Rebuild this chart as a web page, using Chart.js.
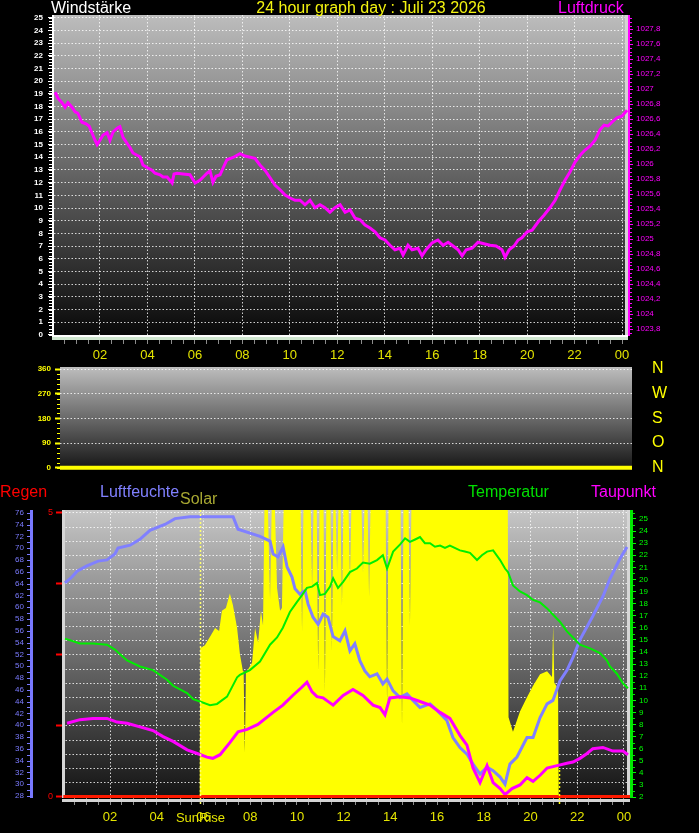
<!DOCTYPE html>
<html>
<head>
<meta charset="utf-8">
<title>24 hour graph day</title>
<script src="https://cdn.jsdelivr.net/npm/chart.js@4.4.1/dist/chart.umd.min.js"></script>
<style>
html,body{margin:0;padding:0;background:#000;}
body{position:relative;width:699px;height:833px;overflow:hidden;font-family:"Liberation Sans",Arial,Helvetica,sans-serif;}
canvas{position:absolute;left:0;}
.t{position:absolute;font-size:16px;line-height:16px;white-space:nowrap;}
</style>
</head>
<body>
<canvas id="c1" width="699" height="362" style="top:0px"></canvas>
<canvas id="c2" width="699" height="138" style="top:352px"></canvas>
<canvas id="c3" width="699" height="353" style="top:480px"></canvas>
<div class="t" style="left:51px;top:0px;color:#ffffff">Windstärke</div>
<div class="t" style="left:0;width:742px;text-align:center;top:0px;color:#f4f410">24 hour graph day : Juli 23 2026</div>
<div class="t" style="left:558px;top:0px;color:#ff00ff">Luftdruck</div>
<div class="t" style="left:0px;top:484px;color:#ff0000">Regen</div>
<div class="t" style="left:100px;top:484px;color:#8080ff">Luftfeuchte</div>
<div class="t" style="left:180px;top:491px;color:#a8a832">Solar</div>
<div class="t" style="left:468px;top:484px;color:#00e000">Temperatur</div>
<div class="t" style="left:591px;top:484px;color:#ff00ff">Taupunkt</div>
<script>
// ---------------- DATA ----------------
const hourLabelValues = [2,4,6,8,10,12,14,16,18,20,22,24];
const hourLabels = ['02','04','06','08','10','12','14','16','18','20','22','00'];
const windTicks = [0,1,2,3,4,5,6,7,8,9,10,11,12,13,14,15,16,17,18,19,20,21,22,23,24,25];
const pressTicks = [1023.8,1024,1024.2,1024.4,1024.6,1024.8,1025,1025.2,1025.4,1025.6,1025.8,1026,1026.2,1026.4,1026.6,1026.8,1027,1027.2,1027.4,1027.6,1027.8];
const dirTicks = [0,90,180,270,360];
const dirLabels = ['N','O','S','W','N'];
const humTicks = [28,30,32,34,36,38,40,42,44,46,48,50,52,54,56,58,60,62,64,66,68,70,72,74,76];
const tempTicks = [2,3,4,5,6,7,8,9,10,11,12,13,14,15,16,17,18,19,20,21,22,23,24,25];
const rainLabelTicks = [0,1.25,2.5,3.75,5];
const sunriseHour = 5.85;
const sunsetHour = 21.22;

const pressHours = [0.11,0.23,0.40,0.53,0.65,0.82,0.95,1.07,1.24,1.41,
 1.54,1.66,1.79,1.88,2.00,2.13,2.30,2.42,2.55,2.72,
 2.84,2.97,3.14,3.27,3.39,3.56,3.69,3.81,4.02,4.19,
 4.32,4.53,4.66,4.83,5.04,5.12,5.25,5.50,5.79,6.01,
 6.22,6.38,6.51,6.64,6.76,6.89,7.06,7.23,7.35,7.61,
 7.90,8.11,8.53,8.74,8.95,9.17,9.38,9.59,9.80,10.01,
 10.22,10.43,10.64,10.85,11.06,11.27,11.48,11.69,11.90,12.12,
 12.33,12.54,12.75,12.96,13.17,13.38,13.59,13.80,14.01,14.22,
 14.43,14.64,14.77,14.98,15.15,15.40,15.57,15.74,15.99,16.24,
 16.46,16.67,16.88,17.09,17.26,17.43,17.68,17.93,18.18,18.44,
 18.69,18.94,19.07,19.24,19.45,19.62,19.78,20.00,20.21,20.46,
 20.71,20.96,21.18,21.39,21.60,21.81,22.02,22.23,22.44,22.65,
 22.86,23.07,23.24,23.41,23.57,23.78,23.99,24.21];
const pressValues = [1026.96,1026.88,1026.82,1026.76,1026.82,1026.76,1026.70,1026.68,1026.56,1026.54,
 1026.51,1026.42,1026.32,1026.26,1026.32,1026.39,1026.42,1026.32,1026.43,1026.48,
 1026.50,1026.36,1026.28,1026.22,1026.15,1026.12,1026.10,1025.99,1025.95,1025.92,
 1025.88,1025.86,1025.83,1025.83,1025.75,1025.87,1025.88,1025.87,1025.86,1025.75,
 1025.79,1025.84,1025.88,1025.91,1025.76,1025.84,1025.86,1025.98,1026.06,1026.09,
 1026.14,1026.11,1026.08,1025.99,1025.92,1025.82,1025.72,1025.66,1025.59,1025.55,
 1025.52,1025.52,1025.46,1025.52,1025.42,1025.46,1025.42,1025.36,1025.42,1025.46,
 1025.36,1025.39,1025.28,1025.26,1025.19,1025.15,1025.10,1025.02,1024.99,1024.92,
 1024.86,1024.88,1024.79,1024.92,1024.86,1024.88,1024.78,1024.86,1024.95,1024.99,
 1024.92,1024.96,1024.91,1024.86,1024.78,1024.86,1024.88,1024.96,1024.94,1024.92,
 1024.91,1024.86,1024.76,1024.86,1024.91,1024.99,1025.02,1025.10,1025.12,1025.23,
 1025.32,1025.42,1025.52,1025.66,1025.79,1025.90,1026.03,1026.12,1026.19,1026.24,
 1026.32,1026.46,1026.52,1026.51,1026.56,1026.62,1026.64,1026.72];

const dirHours = [0, 24.3];
const dirValues = [0, 0];

const rainHours = [0, 24.3];
const rainValues = [0, 0];

const humHours = [0.07,0.37,0.59,1.01,1.49,1.87,2.21,2.34,2.86,3.28,
 3.71,4.35,4.78,5.42,7.27,7.48,8.42,8.85,8.98,9.19,
 9.41,9.58,9.79,9.92,10.13,10.35,10.48,10.69,10.91,11.12,
 11.33,11.55,11.84,12.06,12.27,12.48,12.70,12.91,13.12,13.43,
 13.68,13.86,14.12,14.41,14.71,14.97,15.27,15.70,16.00,16.42,
 16.68,16.98,17.28,17.54,17.84,18.14,18.40,18.70,18.91,19.12,
 19.42,19.85,20.11,20.41,20.71,20.96,21.26,21.56,21.82,22.12,
 22.67,23.11,23.40,23.83,24.13];
const humValues = [64.1,65.1,66.1,67.0,67.8,68.0,69.0,70.0,70.5,71.5,
 73.0,74.0,75.0,75.3,75.3,73.2,72.0,71.2,69.0,68.5,
 70.2,66.8,65.1,63.1,62.2,62.8,60.5,58.3,57.1,58.8,
 58.3,55.0,54.3,56.0,52.6,53.8,50.9,49.2,48.2,48.7,
 47.0,47.8,45.8,44.7,45.3,44.2,43.0,43.6,42.5,40.8,
 37.9,36.2,35.1,33.4,31.7,32.9,32.3,31.2,30.0,33.4,
 34.6,37.9,37.9,41.3,43.6,44.2,47.5,49.3,51.5,54.5,
 58.5,61.9,64.8,68.2,70.2];

const tempHours = [0.07,0.71,1.27,1.87,2.21,2.43,2.73,3.28,3.84,4.44,
 4.70,5.30,5.56,5.85,6.28,6.58,7.01,7.44,7.56,7.99,
 8.42,8.85,9.15,9.40,9.70,9.99,10.22,10.43,10.65,10.86,
 10.99,11.20,11.42,11.55,11.76,11.98,12.27,12.57,12.83,13.12,
 13.43,13.68,13.86,14.12,14.42,14.63,14.84,15.06,15.27,15.48,
 15.70,15.91,16.13,16.34,16.55,16.98,17.19,17.41,17.71,17.92,
 18.14,18.40,18.70,18.91,19.04,19.25,19.55,19.85,20.11,20.41,
 20.71,20.96,21.26,21.56,21.82,22.12,22.55,22.97,23.27,23.40,
 23.70,23.96,24.17];
const tempValues = [15.1,14.7,14.7,14.6,14.2,13.8,13.3,12.8,12.5,11.7,
 11.2,10.6,10.1,9.9,9.6,9.7,10.3,11.9,12.1,12.5,
 13.2,14.6,15.2,16.0,17.3,18.1,18.7,19.3,19.4,19.7,
 18.7,18.8,19.4,20.1,19.3,19.8,20.6,20.9,21.4,21.3,
 21.6,22.0,20.9,22.3,22.9,23.4,23.1,23.3,23.5,23.0,
 23.0,22.7,22.8,22.6,22.8,22.4,22.3,22.2,21.6,22.0,
 22.3,22.4,21.6,20.9,20.6,19.5,19.0,18.7,18.3,18.1,
 17.6,17.1,16.5,15.7,15.2,14.6,14.3,13.9,13.3,12.8,
 12.2,11.4,11.0];

const dewHours = [0.16,0.71,1.27,1.87,2.30,2.73,3.28,3.84,4.27,4.70,
 5.30,5.73,6.15,6.40,6.71,7.13,7.48,7.87,8.33,8.98,
 9.40,9.82,10.22,10.43,10.65,10.86,11.12,11.55,11.98,12.40,
 12.83,13.26,13.56,13.77,13.98,14.41,14.84,15.27,15.70,16.13,
 16.55,16.98,17.28,17.54,17.84,18.14,18.40,18.70,18.91,19.21,
 19.55,19.85,20.11,20.41,20.71,21.14,21.56,21.82,22.12,22.42,
 22.67,23.10,23.53,23.96,24.17];
const dewValues = [8.1,8.4,8.5,8.5,8.2,8.1,7.8,7.5,7.0,6.6,
 5.9,5.6,5.3,5.2,5.5,6.5,7.4,7.6,8.0,9.0,
 9.6,10.4,11.1,11.5,10.7,10.3,10.2,9.6,10.4,10.9,
 10.4,9.6,9.4,8.8,10.2,10.3,10.2,9.9,9.6,9.0,
 8.5,7.1,6.3,4.4,3.2,4.6,3.2,2.7,2.2,2.7,
 3.0,3.6,3.3,3.8,4.4,4.6,4.8,4.9,5.2,5.6,
 6.0,6.1,5.8,5.8,5.5];

const solarHours = [0,5.84,5.86,6.06,6.28,6.50,6.67,6.79,6.96,7.13,
 7.26,7.44,7.56,7.69,7.72,7.77,7.82,7.86,8.08,8.21,
 8.34,8.46,8.55,8.61,8.76,8.85,8.92,9.06,9.15,9.28,
 9.36,9.43,10.16,10.22,10.28,10.59,10.65,10.71,10.85,10.91,
 10.97,11.14,11.20,11.26,11.44,11.50,11.56,11.66,11.72,11.78,
 11.87,11.93,11.99,12.21,12.27,12.33,12.77,12.83,12.89,13.03,
 13.09,13.15,13.80,13.86,13.92,14.44,14.50,14.56,14.78,14.84,
 14.90,19.03,19.06,19.25,19.55,19.85,20.11,20.41,20.71,20.92,
 20.97,21.02,21.18,21.21,24.30];
const solarValues = [0,0,52,53,56,59,58,65,66,71,
 67,59,50,44,44,16,44,44,47,59,
 54,65,60,100,100,69,100,100,73,65,
 66,100,100,58,100,100,73,100,100,44,
 100,100,37,100,100,51,100,100,79,100,
 100,67,100,100,75,100,100,78,100,100,
 70,100,100,32,100,100,25,100,100,60,
 100,100,28,23,30,35,39,43,44,42,
 60,40,38,0,0];

// ---------------- HELPERS ----------------
Chart.defaults.font.family = '"Liberation Sans", Arial, Helvetica, sans-serif';
Chart.defaults.animation = false;
Chart.defaults.plugins.legend.display = false;
Chart.defaults.plugins.tooltip.enabled = false;
Chart.defaults.elements.point.radius = 0;
Chart.defaults.elements.line.tension = 0;

const GRID = 'rgba(255,255,255,0.8)';
const NONE = 'rgba(0,0,0,0)';
const DOT = [1.5, 2];
const xy = (xs, ys) => xs.map((x, i) => ({x: x, y: ys[i]}));
const near = (a, b) => Math.abs(a - b) < 1e-6;
const isLabelHour = v => hourLabelValues.some(h => near(h, v));

function hourAxis(min, max, tickLen, pad, height) {
  return {
    type: 'linear', min: min, max: max,
    afterBuildTicks: s => {
      const t = [];
      for (let k = 1; k <= 48; k++) { const v = k * 0.5; if (v >= min && v <= max) t.push({value: v}); }
      s.ticks = t;
    },
    grid: { color: c => (c.tick && isLabelHour(c.tick.value)) ? GRID : NONE, lineWidth: 1,
            tickColor: '#8c8c8c', tickLength: tickLen, tickWidth: 1 },
    border: { display: false, dash: DOT },
    ticks: { color: '#e4e400', font: {size: 13}, padding: pad, autoSkip: false, maxRotation: 0, minRotation: 0,
             callback: v => { const i = hourLabelValues.findIndex(h => near(h, v)); return i >= 0 ? hourLabels[i] : ''; } },
    afterFit: s => { s.height = height; }
  };
}
function gradientPlugin(id, c0, c1) {
  return { id: id, beforeDraw(chart) {
    const {ctx, chartArea: a} = chart;
    const g = ctx.createLinearGradient(0, a.top, 0, a.bottom);
    g.addColorStop(0, c0); g.addColorStop(1, c1);
    ctx.save(); ctx.fillStyle = g; ctx.fillRect(a.left, a.top, a.right - a.left, a.bottom - a.top); ctx.restore();
  }};
}
function minorTicks(ctx, scale, from, to, step, x1, x2, color) {
  ctx.strokeStyle = color; ctx.lineWidth = 1; ctx.setLineDash([]);
  ctx.beginPath();
  const n = Math.round((to - from) / step);
  for (let k = 0; k <= n; k++) {
    const y = Math.round(scale.getPixelForValue(from + k * step)) + 0.5;
    ctx.moveTo(x1, y); ctx.lineTo(x2, y);
  }
  ctx.stroke();
}

// ---------------- CHART 1 : Windstärke / Luftdruck ----------------
new Chart(document.getElementById('c1'), {
  type: 'line',
  data: { datasets: [{ data: xy(pressHours, pressValues), yAxisID: 'yP', borderColor: '#ff00ff', borderWidth: 3 }] },
  options: {
    responsive: false,
    layout: { padding: { top: 15, left: 0, right: 0, bottom: 0 } },
    scales: {
      x: hourAxis(0.063, 24.25, 8, 4, 26),
      y: { position: 'left', min: -0.08, max: 25.21,
           afterBuildTicks: s => { s.ticks = windTicks.map(v => ({value: v})); },
           grid: { color: c => (c.tick && c.tick.value > 0) ? GRID : NONE, lineWidth: 1, tickColor: '#ffffff', tickLength: 6 },
           border: { display: false, dash: DOT },
           ticks: { color: '#ffffff', font: {size: 8, weight: 'bold'}, padding: 5, autoSkip: false },
           afterFit: s => { s.width = 54; } },
      yP: { position: 'right', min: 1023.71, max: 1027.99,
            afterBuildTicks: s => { s.ticks = pressTicks.map(v => ({value: v})); },
            grid: { drawOnChartArea: false, tickColor: '#ff00ff', tickLength: 5 },
            border: { display: false },
            ticks: { color: '#ff00ff', font: {size: 8}, padding: 3, autoSkip: false,
                     callback: v => String(+(+v).toFixed(1)).replace('.', ',') },
            afterFit: s => { s.width = 71; } }
    }
  },
  plugins: [gradientPlugin('bg1', '#bdbdbd', '#080808'), {
    id: 'deco1',
    beforeDatasetsDraw(chart) {
      const {ctx, chartArea: a} = chart;
      ctx.save(); ctx.fillStyle = '#d2d2d2'; ctx.fillRect(a.right - 3, a.top, 3, a.bottom - a.top); ctx.restore();
    },
    afterDraw(chart) {
      const {ctx, chartArea: a, scales: s} = chart;
      ctx.save();
      ctx.fillStyle = '#ffffff'; ctx.fillRect(a.left - 2, a.top, 2, a.bottom - a.top + 1);
      minorTicks(ctx, s.y, 0, 25, 0.25, a.left - 5, a.left - 2, '#ffffff');
      ctx.fillStyle = '#ff00ff'; ctx.fillRect(a.right, a.top, 2, a.bottom - a.top);
      minorTicks(ctx, s.yP, 1023.75, 1027.95, 0.05, a.right + 2, a.right + 4, '#ff00ff');
      ctx.fillStyle = '#ffffff'; ctx.fillRect(a.left - 2, a.bottom - 1, a.right - a.left + 2, 2);
      ctx.fillStyle = '#cfe6cf'; ctx.fillRect(a.left - 2, a.bottom + 1, a.right - a.left + 2, 3);
      ctx.restore();
    }
  }]
});

// ---------------- CHART 2 : Windrichtung ----------------
new Chart(document.getElementById('c2'), {
  type: 'line',
  data: { datasets: [{ data: xy(dirHours, dirValues), borderColor: '#ffff00', borderWidth: 4 }] },
  options: {
    responsive: false,
    layout: { padding: { top: 15, left: 0, right: 0, bottom: 20 } },
    scales: {
      x: { type: 'linear', display: false, min: 0.06, max: 24.3 },
      y: { position: 'left', min: -8.4, max: 367.3,
           afterBuildTicks: s => { s.ticks = dirTicks.map(v => ({value: v})); },
           grid: { color: c => (c.tick && c.tick.value > 0) ? GRID : NONE, lineWidth: 1, tickColor: '#ffff00', tickLength: 5, tickWidth: 2 },
           border: { display: false, dash: DOT },
           ticks: { color: '#ffff00', font: {size: 8, weight: 'bold'}, padding: 4, autoSkip: false },
           afterFit: s => { s.width = 60; } },
      yR: { position: 'right', min: -8.4, max: 367.3,
            afterBuildTicks: s => { s.ticks = dirTicks.map(v => ({value: v})); },
            grid: { drawOnChartArea: false, drawTicks: true, tickLength: 20, tickColor: NONE },
            border: { display: false },
            ticks: { color: '#ffff00', font: {size: 16}, padding: 0, autoSkip: false,
                     callback: (v, i) => dirLabels[i] },
            afterFit: s => { s.width = 67; } }
    }
  },
  plugins: [gradientPlugin('bg2', '#bebebe', '#141414'), {
    id: 'deco2',
    afterDraw(chart) {
      const {ctx, chartArea: a, scales: s} = chart;
      ctx.save();
      minorTicks(ctx, s.y, 0, 360, 18, a.left - 3, a.left, '#ffff00');
      ctx.restore();
    }
  }]
});

// ---------------- CHART 3 : Regen / Luftfeuchte / Solar / Temperatur / Taupunkt ----------------
new Chart(document.getElementById('c3'), {
  type: 'line',
  data: { datasets: [
    { label: 'Regen', data: xy(rainHours, rainValues), yAxisID: 'yR', borderColor: '#ff1a00', borderWidth: 4, order: 1 },
    { label: 'Taupunkt', data: xy(dewHours, dewValues), yAxisID: 'yT', borderColor: '#ff00ff', borderWidth: 3, order: 2 },
    { label: 'Temperatur', data: xy(tempHours, tempValues), yAxisID: 'yT', borderColor: '#00ee00', borderWidth: 2, order: 3 },
    { label: 'Luftfeuchte', data: xy(humHours, humValues), yAxisID: 'yH', borderColor: '#8080ff', borderWidth: 3, order: 4 },
    { label: 'Solar', data: xy(solarHours, solarValues), yAxisID: 'yS', borderColor: '#ffff00', backgroundColor: '#ffff00', borderWidth: 0, fill: 'origin', order: 10 }
  ] },
  options: {
    responsive: false,
    layout: { padding: { top: 30, left: 0, right: 0, bottom: 0 } },
    scales: {
      x: hourAxis(-0.056, 24.26, 7, 5, 35),
      yH: { position: 'left', weight: 2, min: 27.66, max: 76.46,
            afterBuildTicks: s => { s.ticks = humTicks.map(v => ({value: v})); },
            grid: { drawOnChartArea: false, drawTicks: false },
            border: { display: false },
            ticks: { color: '#7b7bff', font: {size: 8}, padding: 9, autoSkip: false },
            afterFit: s => { s.width = 33; } },
      yR: { position: 'left', weight: 1, min: -0.018, max: 5.05,
            afterBuildTicks: s => { const t = []; for (let k = 0; k <= 20; k++) t.push({value: k * 0.25}); s.ticks = t; },
            grid: { color: c => (c.tick && c.tick.value > 0.01) ? GRID : NONE, lineWidth: 1,
                    tickColor: c => (c.tick && rainLabelTicks.some(r => near(r, c.tick.value))) ? '#ff0000' : NONE,
                    tickLength: 6, tickWidth: 2 },
            border: { display: false, dash: DOT },
            ticks: { color: '#ff0000', font: {size: 9}, padding: 3, autoSkip: false,
                     callback: v => (near(v, 0) || near(v, 5)) ? String(Math.round(v)) : '' },
            afterFit: s => { s.width = 29; } },
      yT: { position: 'right', min: 1.92, max: 25.74,
            afterBuildTicks: s => { s.ticks = tempTicks.map(v => ({value: v})); },
            grid: { drawOnChartArea: false, tickColor: '#00ff00', tickLength: 6 },
            border: { display: false },
            ticks: { color: '#00ff00', font: {size: 8}, padding: 3, autoSkip: false },
            afterFit: s => { s.width = 69; } },
      yS: { display: false, min: 0, max: 100 }
    }
  },
  plugins: [gradientPlugin('bg3', '#c6c6c6', '#131313'), {
    id: 'deco3',
    beforeDatasetsDraw(chart) {
      const {ctx, chartArea: a} = chart;
      ctx.save();
      ctx.fillStyle = '#d6d6d6';
      ctx.fillRect(a.left, a.top, 3, a.bottom - a.top);
      ctx.fillRect(a.right - 3, a.top, 3, a.bottom - a.top);
      ctx.restore();
    },
    afterDraw(chart) {
      const {ctx, chartArea: a, scales: s} = chart;
      ctx.save();
      ctx.fillStyle = '#7878ff'; ctx.fillRect(30, a.top, 3, a.bottom - a.top);
      minorTicks(ctx, s.yH, 28, 76, 1, 27, 30, '#7878ff');
      ctx.fillStyle = '#00e800'; ctx.fillRect(a.right, a.top, 3, a.bottom - a.top);
      minorTicks(ctx, s.yT, 2.5, 25.5, 1, a.right + 3, a.right + 5, '#00e800');
      ctx.fillStyle = '#d4d4d4'; ctx.fillRect(a.left, a.bottom + 1, a.right - a.left, 3);
      // sunrise / sunset markers
      const xr = Math.round(s.x.getPixelForValue(sunriseHour)) + 0.5;
      const xs = Math.round(s.x.getPixelForValue(sunsetHour)) + 0.5;
      ctx.strokeStyle = '#ffff70'; ctx.lineWidth = 1.5; ctx.setLineDash([2, 2]);
      ctx.beginPath(); ctx.moveTo(xr, a.top); ctx.lineTo(xr, a.bottom + 8); ctx.stroke();
      ctx.strokeStyle = '#ffff00';
      ctx.beginPath(); ctx.moveTo(xs, a.bottom - 28); ctx.lineTo(xs, a.bottom + 8); ctx.stroke();
      ctx.setLineDash([]);
      ctx.fillStyle = '#e4e400'; ctx.font = '13px "Liberation Sans", Arial, sans-serif';
      ctx.textAlign = 'center'; ctx.textBaseline = 'middle';
      ctx.fillText('SunRise', xr, a.bottom + 20);
      ctx.restore();
    }
  }]
});
</script>
</body>
</html>
